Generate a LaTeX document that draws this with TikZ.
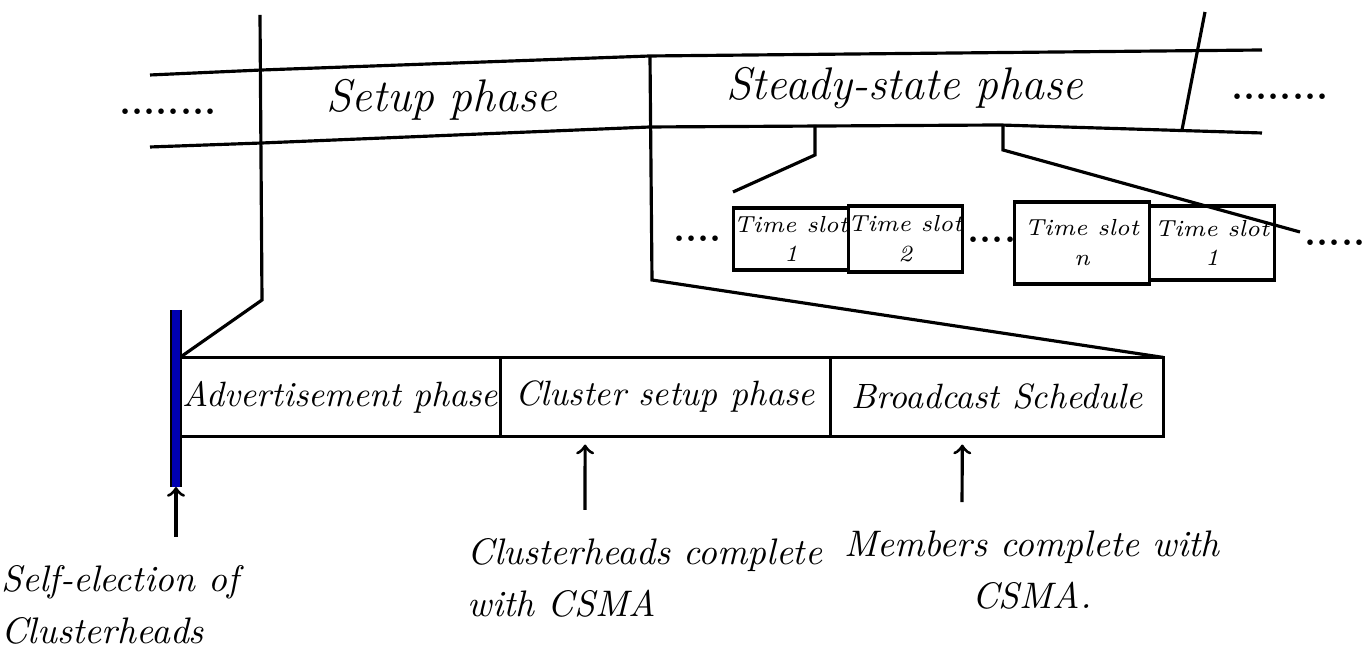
\documentclass[tikz,border=0pt]{standalone}
\usepackage{tikz}
\usetikzlibrary{positioning,arrows}
\tikzset{
  cell/.style={draw,minimum height=0.79cm,inner sep=0pt,outer sep=0pt,font=\fontsize{10}{12}\selectfont\itshape},
  slot/.style={draw,align=center,inner sep=0pt,outer sep=0pt,font=\fontsize{6.6}{8.5}\selectfont\itshape},
  phase/.style={font=\fontsize{13}{15}\selectfont\itshape},
  note/.style={font=\fontsize{10.5}{15}\selectfont\itshape},
  dotrow/.style={font=\fontsize{11}{13}\selectfont\bfseries,inner sep=1pt}
}
\begin{document}
\begin{tikzpicture}[x=0.01cm,y=-0.01cm,>=to,line width=0.9pt]
\useasboundingbox (0,0) rectangle (1365,659);
% top band
\coordinate (bandtl) at (150,75);
\coordinate (bandtr) at (1262,50);
\coordinate (bandbl) at (150,147);
\coordinate (bandbr) at (1262,133);
\draw (bandtl) -- (262,70) -- (650,56) -- (bandtr);
\draw (bandbl) -- (262,143) -- (650,127) -- (1000,125) -- (bandbr);
\node[phase] (setup) at (442,100) {Setup phase};
\node[phase] (steady) at (905,88) {Steady-state phase};
\node[dotrow] (ldots) at (168,112) {........};
\node[dotrow] (rdots) at (1280,97) {........};
\coordinate (sepa) at (260,15);
\coordinate (sepab) at (262,300);
\coordinate (sepb) at (650,56);
\coordinate (sepbb) at (652,280);
\coordinate (sepc) at (1205,12);
\coordinate (sepcb) at (1182,130);
\draw (sepc) -- (sepcb);
% setup phase split
\node[cell,minimum width=3.2cm] (adv) at (340,397) {Advertisement phase};
\node[cell,minimum width=3.3cm,right=0pt of adv] (clus) {Cluster setup phase};
\node[cell,minimum width=3.33cm,right=0pt of clus] (bcast) {Broadcast Schedule};
\draw (sepa) -- (sepab) -- (adv.north west);
\draw (sepb) -- (sepbb) -- (bcast.north east);
\coordinate (selftop) at (176,310);
\coordinate (selfbot) at (176,487);
\draw[line width=3.6pt] (selftop) -- (selfbot);
\draw[blue!70!black,line width=2pt] (selftop) -- (selfbot);
% time slots
\node[slot,minimum width=1.08cm,minimum height=0.62cm] (ts1) at (791,239) {Time slot\\1};
\node[slot,minimum width=1.1cm,minimum height=0.66cm,right=0pt of ts1] (ts2) {Time slot\\2};
\node[slot,minimum width=1.35cm,minimum height=0.82cm] (ts3) at (1082,243) {Time slot\\n};
\node[slot,minimum width=1.25cm,minimum height=0.74cm,right=0pt of ts3] (ts4) {Time slot\\1};
\node[dotrow,left=2pt of ts1] (tsdotsa) {....};
\node[dotrow] (tsdotsb) at (992,240) {....};
\node[dotrow,right=0.25cm of ts4] (tsdotsc) {.....};
\coordinate (brancha) at (815,125);
\coordinate (branchab) at (815,155);
\coordinate (branchac) at (733,192);
\coordinate (branchb) at (1003,125);
\coordinate (branchbb) at (1003,150);
\coordinate (branchbc) at (1300,232);
\draw (brancha) -- (branchab) -- (branchac);
\draw (branchb) -- (branchbb) -- (branchbc);
% notes
\node[note,align=left] (selfel) at (120,605) {Self-election of\\Clusterheads};
\node[note,align=left] (chdone) at (645,578) {Clusterheads complete\\with CSMA};
\node[note,align=center] (memdone) at (1032,570) {Members complete with\\CSMA.};
\draw[->,shorten <=0.15cm] (selfel.north -| selfbot) -- (selfbot);
\draw[->,shorten <=0.15cm,shorten >=0.08cm] ([xshift=-0.6cm]chdone.north) -- ([xshift=-0.8cm]clus.south);
\draw[->,shorten <=0.15cm,shorten >=0.08cm] ([xshift=-0.7cm]memdone.north) -- ([xshift=-0.345cm]bcast.south);
\end{tikzpicture}
\end{document}
